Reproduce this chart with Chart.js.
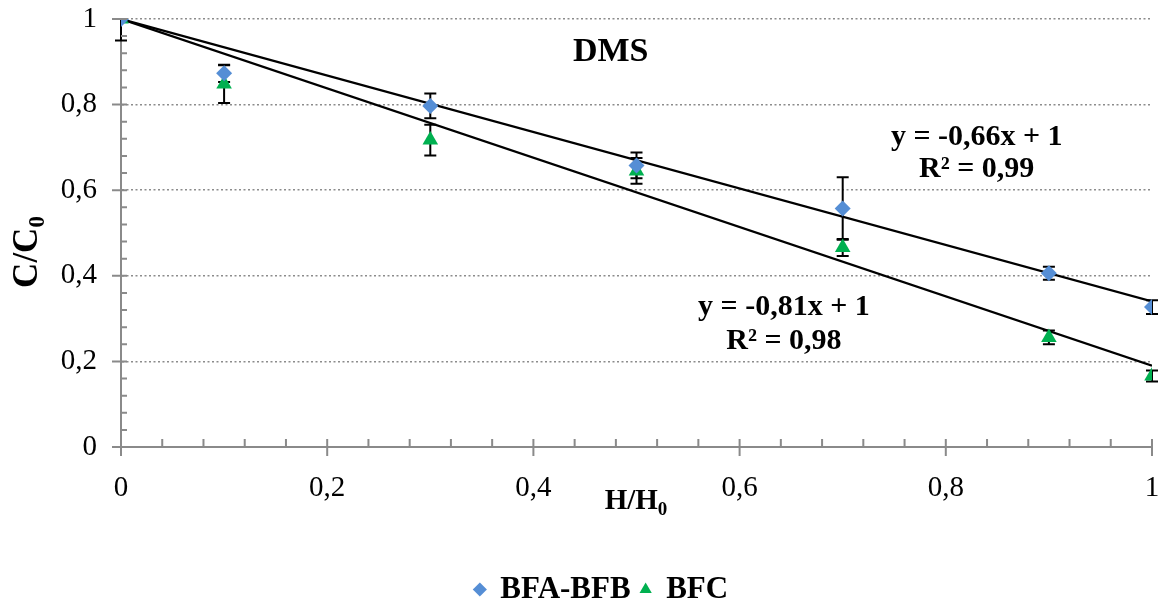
<!DOCTYPE html>
<html>
<head>
<meta charset="utf-8">
<script src="https://cdn.jsdelivr.net/npm/chart.js@4"></script>
<style>
html, body { margin: 0; padding: 0; background: #fff; }
</style>
</head>
<body>
<canvas id="myChart" width="1161" height="602"></canvas>
<script>
// data
var xVals = [0, 0.1, 0.3, 0.5, 0.7, 0.9, 1];
var bfabVals = [1, 0.873, 0.797, 0.658, 0.557, 0.406, 0.327];
var bfabErr = [0, 0.02, 0.029, 0.03, 0.073, 0.015, 0.016];
var bfcVals = [1, 0.848, 0.717, 0.645, 0.466, 0.256, 0.166];
var bfcErr = [0.05, 0.044, 0.036, 0.03, 0.02, 0.016, 0.013];
var seriesNames = ['BFA-BFB', 'BFC'];
var trendSlopes = [-0.66, -0.81];
var trendIntercepts = [1, 1];
var trendText = [['y = -0,66x + 1', 'R² = 0,99'], ['y = -0,81x + 1', 'R² = 0,98']];
var chartTitle = 'DMS';

const serif = '"Liberation Serif", "Times New Roman", serif';
const axisGray = '#8a8a8a';

function pts(xs, ys) {
    return xs.map(function (x, i) { return { x: x, y: ys[i] }; });
}
function trend(i) {
    return [{ x: 0, y: trendIntercepts[i] }, { x: 1, y: trendSlopes[i] + trendIntercepts[i] }];
}
function comma(v) {
    return String(+v.toFixed(2)).replace('.', ',');
}
function noPad(s) {
    s.paddingTop = 0; s.paddingBottom = 0; s.paddingLeft = 0; s.paddingRight = 0;
}

const data = {
    datasets: [{
        label: seriesNames[0],
        data: pts(xVals, bfabVals),
        errors: bfabErr,
        pointStyle: 'rectRot',
        pointRadius: 8,
        pointHoverRadius: 8,
        backgroundColor: '#558ed5',
        borderColor: '#558ed5',
        borderWidth: 0,
        showLine: false,
        order: 1
    }, {
        label: seriesNames[1],
        data: pts(xVals, bfcVals),
        errors: bfcErr,
        pointStyle: 'triangle',
        pointRadius: 9,
        pointHoverRadius: 9,
        backgroundColor: '#00b050',
        borderColor: '#00b050',
        borderWidth: 0,
        showLine: false,
        order: 1
    }, {
        label: 'trend1',
        data: trend(0),
        showLine: true,
        borderColor: '#000',
        borderWidth: 2.2,
        pointRadius: 0,
        order: 2
    }, {
        label: 'trend2',
        data: trend(1),
        showLine: true,
        borderColor: '#000',
        borderWidth: 2.2,
        pointRadius: 0,
        order: 2
    }]
};

// error bars, minor ticks, subscripted axis titles and text boxes
const decor = {
    id: 'decor',
    beforeDatasetsDraw(chart) {
        const ctx = chart.ctx, ys = chart.scales.y, a = chart.chartArea;
        ctx.save();
        ctx.beginPath();
        ctx.rect(a.left - 10, a.top, a.right - a.left + 20, a.bottom - a.top);
        ctx.clip();
        ctx.strokeStyle = '#000';
        ctx.lineWidth = 2;
        [0, 1].forEach(function (d) {
            const ds = chart.data.datasets[d];
            chart.getDatasetMeta(d).data.forEach(function (el, i) {
                const e = ds.errors[i];
                if (!e) return;
                const v = ds.data[i].y;
                const y1 = ys.getPixelForValue(v + e), y2 = ys.getPixelForValue(v - e);
                ctx.beginPath();
                ctx.moveTo(el.x, y1); ctx.lineTo(el.x, y2);
                ctx.moveTo(el.x - 6, y1); ctx.lineTo(el.x + 6, y1);
                ctx.moveTo(el.x - 6, y2); ctx.lineTo(el.x + 6, y2);
                ctx.stroke();
            });
        });
        ctx.restore();
    },
    afterDraw(chart) {
        const ctx = chart.ctx, xs = chart.scales.x, ys = chart.scales.y, a = chart.chartArea;
        ctx.save();
        // tick marks
        ctx.strokeStyle = axisGray;
        ctx.lineWidth = 2;
        ctx.beginPath();
        for (let k = 0; k <= 25; k++) {
            const v = k * 0.04;
            const major = k % 5 === 0;
            const px = xs.getPixelForValue(v);
            ctx.moveTo(px, a.bottom - 8);
            ctx.lineTo(px, major ? a.bottom + 9 : a.bottom);
            const py = ys.getPixelForValue(v);
            ctx.moveTo(major ? a.left - 9 : a.left, py);
            ctx.lineTo(a.left + 6, py);
        }
        ctx.stroke();

        ctx.fillStyle = '#000';
        // axis titles with subscript
        function sub(main, s, x, y, size) {
            ctx.font = 'bold ' + size + 'px ' + serif;
            const w1 = ctx.measureText(main).width;
            ctx.font = 'bold ' + Math.round(size * 0.66) + 'px ' + serif;
            const w2 = ctx.measureText(s).width;
            const x0 = x - (w1 + w2) / 2;
            ctx.textAlign = 'left';
            ctx.textBaseline = 'alphabetic';
            ctx.font = 'bold ' + size + 'px ' + serif;
            ctx.fillText(main, x0, y);
            ctx.font = 'bold ' + Math.round(size * 0.66) + 'px ' + serif;
            ctx.fillText(s, x0 + w1, y + size * 0.2);
        }
        sub('H/H', '0', 636, 509, 29);
        ctx.save();
        ctx.translate(37, 252);
        ctx.rotate(-Math.PI / 2);
        sub('C/C', '0', 0, 0, 35);
        ctx.restore();

        // title and trendline equations
        const boxes = chart.options.plugins.decor.boxes;
        ctx.textAlign = 'center';
        ctx.textBaseline = 'middle';
        boxes.forEach(function (b) {
            ctx.font = 'bold ' + b.size + 'px ' + serif;
            const cx = xs.getPixelForValue(b.x), cy = ys.getPixelForValue(b.y);
            b.lines.forEach(function (t, i) {
                ctx.fillText(t, cx, cy + i * b.gap);
            });
        });
        ctx.restore();
    }
};

const config = {
    type: 'scatter',
    data: data,
    plugins: [decor],
    options: {
        responsive: false,
        animation: false,
        layout: { padding: { left: 50, right: 8, top: 19, bottom: -13 } },
        scales: {
            x: {
                type: 'linear',
                min: 0,
                max: 1,
                afterFit: function (s) { s.height = 117; noPad(s); },
                grid: { display: false, drawTicks: false },
                border: { display: true, color: axisGray, width: 2 },
                ticks: {
                    stepSize: 0.2,
                    padding: 24,
                    color: '#000',
                    font: { family: serif, size: 29 },
                    callback: function (v) { return comma(v); }
                }
            },
            y: {
                min: 0,
                max: 1,
                afterFit: function (s) { s.width = 71; noPad(s); },
                grid: {
                    drawTicks: false,
                    color: function (c) { return c.tick && c.tick.value === 0 ? 'rgba(0,0,0,0)' : '#8c8c8c'; },
                    lineWidth: 1.6
                },
                border: { display: true, color: axisGray, width: 2, dash: [2, 2.5] },
                ticks: {
                    stepSize: 0.2,
                    padding: 24,
                    color: '#000',
                    font: { family: serif, size: 29 },
                    callback: function (v) { return comma(v); }
                }
            }
        },
        plugins: {
            tooltip: { enabled: false },
            legend: {
                position: 'bottom',
                labels: {
                    usePointStyle: true,
                    boxWidth: 10,
                    boxHeight: 10,
                    padding: 10,
                    color: '#000',
                    font: { family: serif, size: 31, weight: 'bold' },
                    filter: function (item) { return item.datasetIndex < 2; }
                }
            },
            decor: {
                boxes: [
                    { x: 0.475, y: 0.923, size: 34, gap: 0, lines: [chartTitle] },
                    { x: 0.83, y: 0.723, size: 30, gap: 32, lines: trendText[0] },
                    { x: 0.643, y: 0.327, size: 30, gap: 34, lines: trendText[1] }
                ]
            }
        }
    }
};

const myChart = new Chart(document.getElementById('myChart'), config);
</script>
</body>
</html>
